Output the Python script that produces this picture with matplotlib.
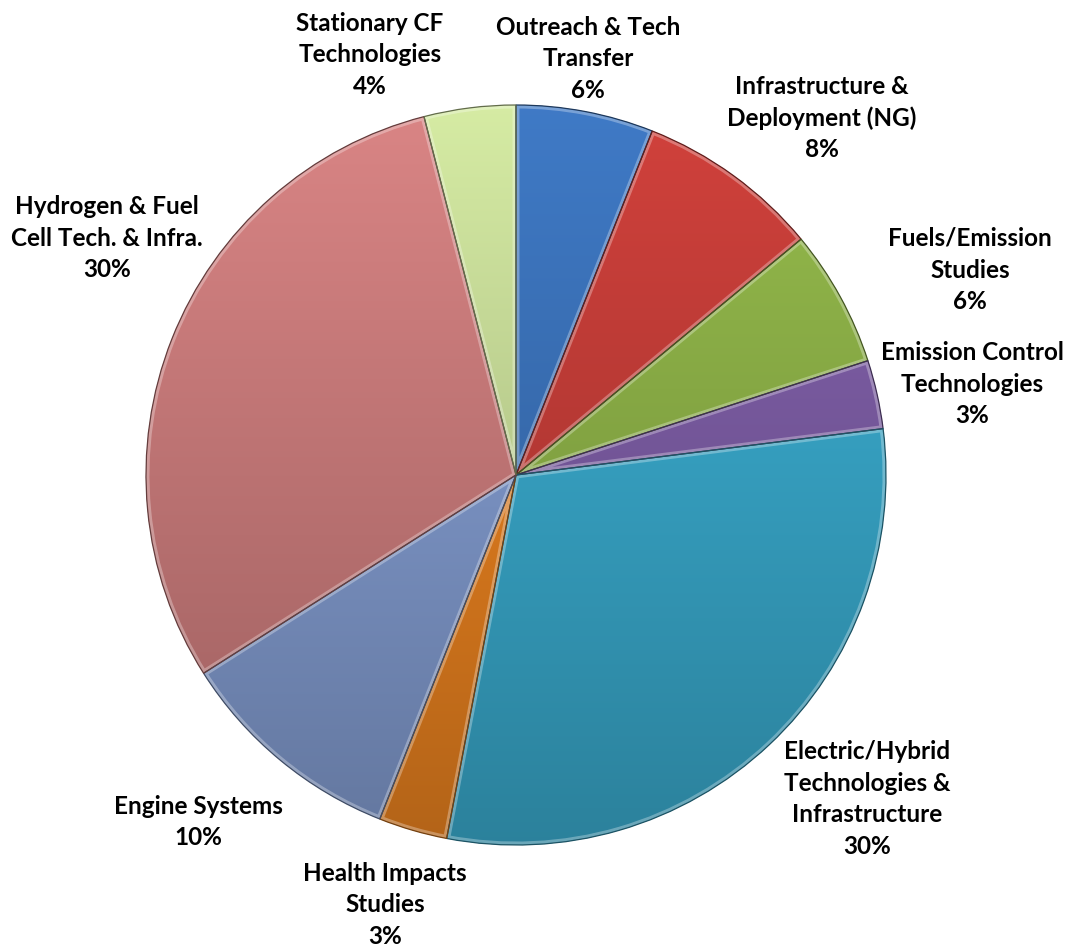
import numpy as np
from matplotlib import pyplot as plt
from matplotlib import patches
from matplotlib.colors import to_rgb

# funding share by research area, clockwise from 12 o'clock
labels = ['Outreach & Tech\nTransfer',
          'Infrastructure &\nDeployment (NG)',
          'Fuels/Emission\nStudies',
          'Emission Control\nTechnologies',
          'Electric/Hybrid\nTechnologies &\nInfrastructure',
          'Health Impacts\nStudies',
          'Engine Systems',
          'Hydrogen & Fuel\nCell Tech. & Infra.',
          'Stationary CF\nTechnologies']
shares = [6, 8, 6, 3, 30, 3, 10, 30, 4]

colors = ['#3a70b6', '#c03c37', '#8aad46', '#7a5ba1', '#38a6c8',
          '#e6801f', '#8099cc', '#c87a7a', '#c4d896']

# label centres in pixels (x, y from top)
label_xy = [(588, 59), (822, 118), (970, 270), (972, 384), (867, 799),
            (385, 905), (198, 822), (107, 238), (370, 55)]

W, H = 1070, 953
cx, cy, r = 516, H - 476, 370

fig = plt.figure(figsize=(W/100, H/100), dpi=100)
ax = fig.add_axes([0, 0, 1, 1])

wedges, _ = ax.pie(shares, colors=colors, startangle=90, counterclock=False,
                   center=(cx, cy), radius=r,
                   wedgeprops=dict(linewidth=0))
ax.set_xlim(0, W)
ax.set_ylim(0, H)
ax.set_aspect('equal')
ax.axis('off')

# vertical shading: lighter at the top of the pie, darker at the bottom
n = 400
t = np.linspace(0, 1, n)[:, None]
shade = 1.09 - 0.31*t

for w, c in zip(wedges, colors):
    base = np.array(to_rgb(c))
    img = np.clip(base[None, None, :]*shade[:, :, None], 0, 1)
    img = np.repeat(img, 2, axis=1)
    im = ax.imshow(img, extent=(cx-r, cx+r, cy-r, cy+r), origin='upper',
                   zorder=2, interpolation='bilinear', aspect='auto')
    im.set_clip_path(w)

    # bevel: soft light rim inside the slice, thin dark outline
    rim = patches.Wedge(w.center, w.r, w.theta1, w.theta2, fill=False,
                        edgecolor='white', linewidth=5, alpha=0.3, zorder=3)
    ax.add_patch(rim)
    rim.set_clip_path(w)
    edge = patches.Wedge(w.center, w.r, w.theta1, w.theta2, fill=False,
                         edgecolor=tuple(base*0.5), linewidth=0.9, zorder=4)
    ax.add_patch(edge)

for lab, s, (x, y) in zip(labels, shares, label_xy):
    ax.text(x, H - y, f'{lab}\n{s}%', ha='center', va='center',
            fontsize=17.5, fontweight='bold', family='Lato',
            linespacing=1.45, color='black', zorder=5)

fig.savefig('out.png', dpi=100)
